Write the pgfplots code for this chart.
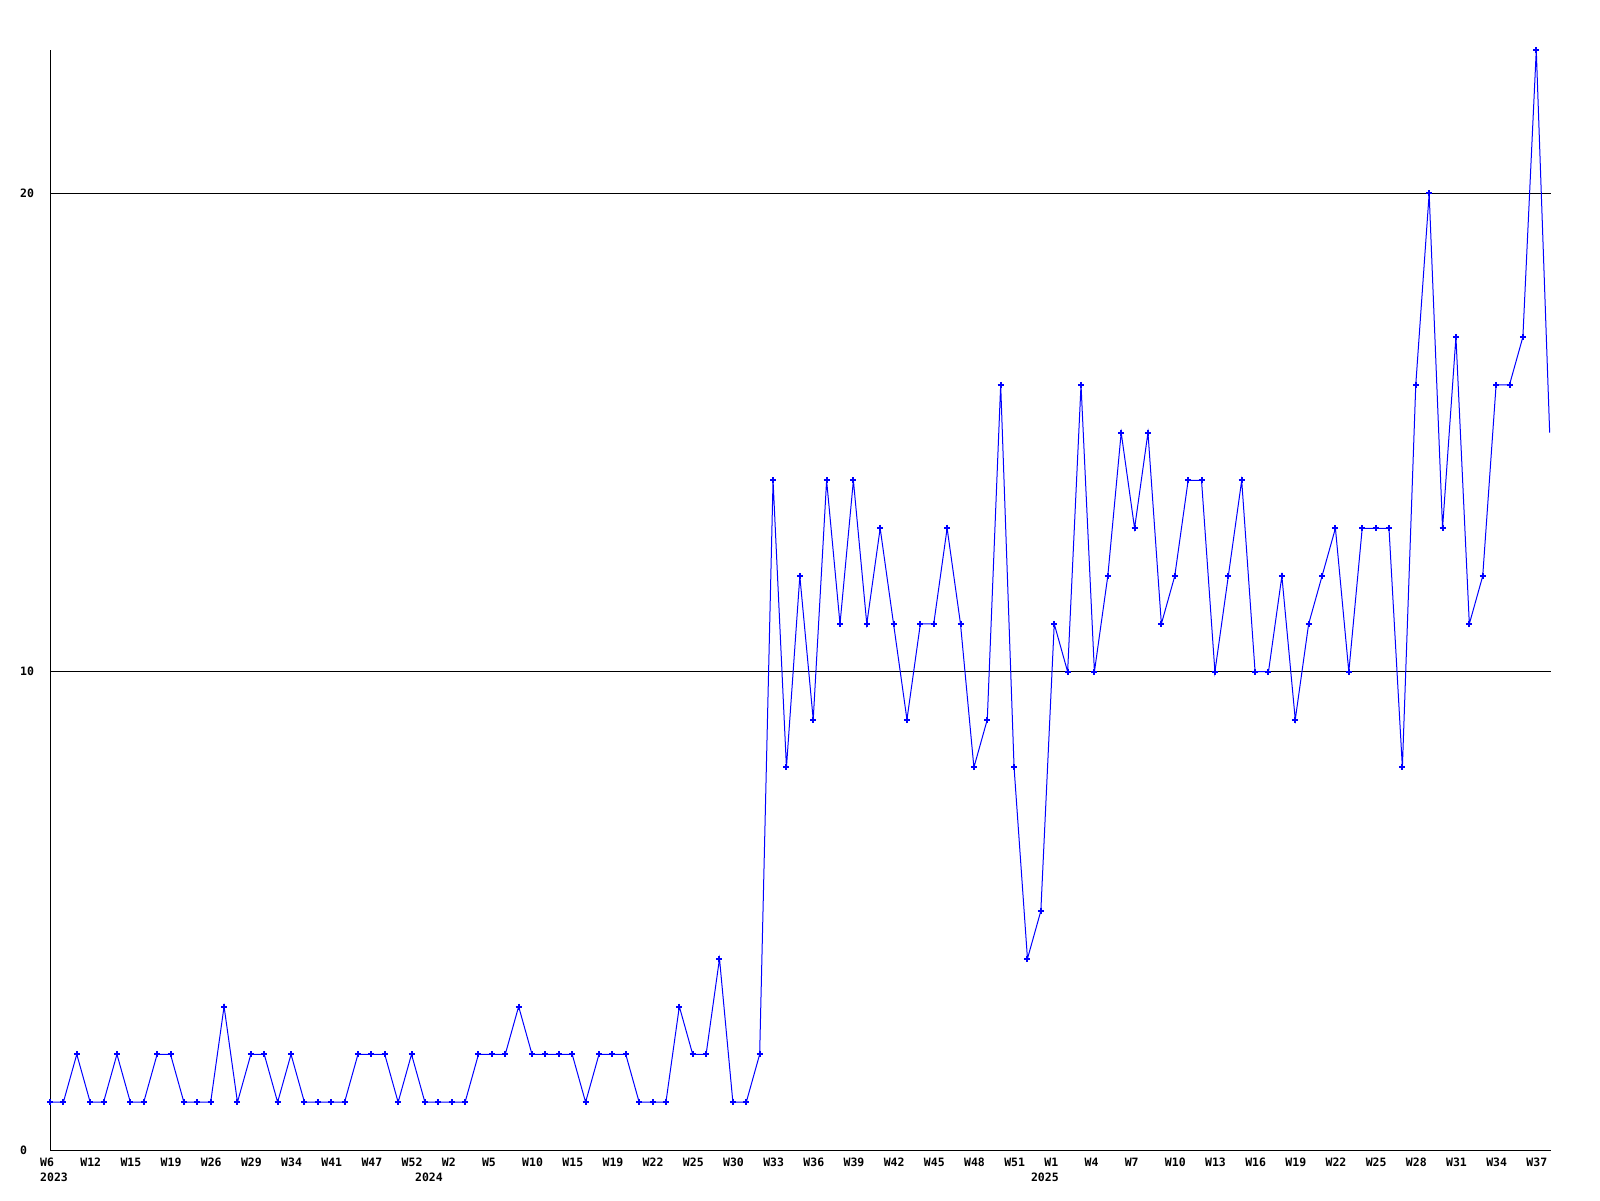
\documentclass[border=0pt]{standalone}
\usepackage{fontspec}
\setmonofont{DejaVu Sans Mono}
\usepackage{pgfplots}
\pgfplotsset{compat=1.18}
\usepackage{pgfplotstable}
\pgfplotstableread{
x y
0 1
1 1
2 2
3 1
4 1
5 2
6 1
7 1
8 2
9 2
10 1
11 1
12 1
13 3
14 1
15 2
16 2
17 1
18 2
19 1
20 1
21 1
22 1
23 2
24 2
25 2
26 1
27 2
28 1
29 1
30 1
31 1
32 2
33 2
34 2
35 3
36 2
37 2
38 2
39 2
40 1
41 2
42 2
43 2
44 1
45 1
46 1
47 3
48 2
49 2
50 4
51 1
52 1
53 2
54 14
55 8
56 12
57 9
58 14
59 11
60 14
61 11
62 13
63 11
64 9
65 11
66 11
67 13
68 11
69 8
70 9
71 16
72 8
73 4
74 5
75 11
76 10
77 16
78 10
79 12
80 15
81 13
82 15
83 11
84 12
85 14
86 14
87 10
88 12
89 14
90 10
91 10
92 12
93 9
94 11
95 12
96 13
97 10
98 13
99 13
100 13
101 8
102 16
103 20
104 13
105 17
106 11
107 12
108 16
109 16
110 17
111 23
112 15
}\datatable
\begin{document}
\begin{tikzpicture}[x=1pt,y=1pt]
\path[use as bounding box] (0,0) rectangle (1600,1200);
\begin{axis}[
  at={(50pt,50pt)}, anchor=south west,
  scale only axis, width=1501pt, height=1100pt,
  xmin=0, xmax=112.1, ymin=0, ymax=23,
  axis lines*=left,
  axis line style={black, line width=1pt},
  xtick={0,3,...,111},
  xticklabels={W6,W12,W15,W19,W26,W29,W34,W41,W47,W52,W2,W5,W10,W15,W19,W22,W25,W30,W33,W36,W39,W42,W45,W48,W51,W1,W4,W7,W10,W13,W16,W19,W22,W25,W28,W31,W34,W37},
  ytick={0,10,20}, yticklabels={0,10,20},
  major tick length=0pt,
  ymajorgrids, grid style={black, line width=1pt},
  /pgf/number format/assume math mode=true,
  tick label style={font=\ttfamily\bfseries\fontsize{11.5}{12}\selectfont, inner sep=0pt},
  xticklabel style={anchor=north west, xshift=-10pt, yshift=-8pt},
  yticklabel style={anchor=west, xshift=-30pt},
  extra x ticks={0,28,74}, extra x tick labels={2023,2024,2025},
  extra x tick style={xticklabel style={yshift=-14.4pt}, grid=none},
]
\addplot[blue, line width=1pt, no markers] table[x=x,y=y]{\datatable};
\addplot[blue, only marks, mark=+, mark size=3pt, mark options={line width=2pt}, skip coords between index={112}{113}] table[x=x,y=y]{\datatable};
\end{axis}
\end{tikzpicture}
\end{document}
